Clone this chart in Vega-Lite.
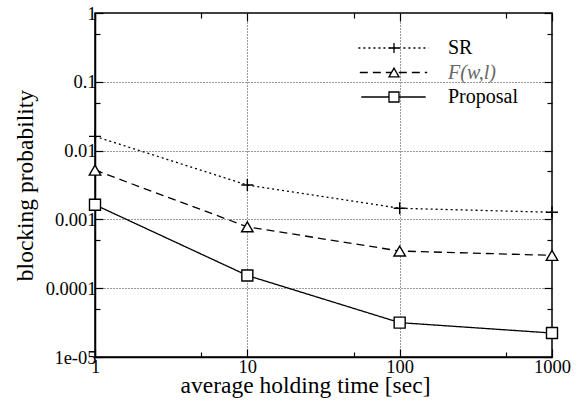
{
  "$schema": "https://vega.github.io/schema/vega-lite/v6.json",
  "width": 457,
  "height": 344,
  "autosize": {"type": "none"},
  "padding": {"left": 95, "top": 13, "right": 26, "bottom": 50},
  "background": "white",
  "config": {"view": {"stroke": "black", "strokeWidth": 1.5}, "font": "Liberation Serif"},
  "data": {"values": [
    {"series": "SR", "time": 1, "p": 0.0161},
    {"series": "SR", "time": 10, "p": 0.00316},
    {"series": "SR", "time": 100, "p": 0.00145},
    {"series": "SR", "time": 1000, "p": 0.00127},
    {"series": "F(w,l)", "time": 1, "p": 0.0052},
    {"series": "F(w,l)", "time": 10, "p": 0.00078},
    {"series": "F(w,l)", "time": 100, "p": 0.000347},
    {"series": "F(w,l)", "time": 1000, "p": 0.0003},
    {"series": "Proposal", "time": 1, "p": 0.00163},
    {"series": "Proposal", "time": 10, "p": 0.000153},
    {"series": "Proposal", "time": 100, "p": 0.0000316},
    {"series": "Proposal", "time": 1000, "p": 0.0000223}
  ]},
  "layer": [
    {
      "mark": {"type": "line", "color": "black", "strokeWidth": 1.3},
      "encoding": {
        "x": {"field": "time", "type": "quantitative",
          "scale": {"type": "log", "domain": [1, 1000], "nice": false},
          "axis": {"orient": "bottom", "values": [1, 5, 10, 50, 100, 500, 1000],
            "labelExpr": "datum.value == 1 ? '1' : datum.value == 10 ? '10' : datum.value == 100 ? '100' : datum.value == 1000 ? '1000' : ''",
            "grid": true, "gridDash": [1, 2], "gridColor": "#333", "gridWidth": 1,
            "gridOpacity": {"condition": {"test": "datum.value == 10 || datum.value == 100", "value": 1}, "value": 0},
            "tickSize": {"condition": {"test": "datum.value == 1 || datum.value == 10 || datum.value == 100 || datum.value == 1000", "value": -8}, "value": -5},
            "tickColor": "black", "tickWidth": 1.2,
            "domainColor": "black", "domainWidth": 1.5,
            "labelFont": "Liberation Serif", "labelFontSize": 18.5, "labelColor": "black",
            "labelPadding": 8, "labelFlush": false, "labelOverlap": false,
            "title": "average holding time [sec]", "titleFont": "Liberation Serif", "titleFontSize": 23.5,
            "titleFontWeight": "normal", "titleColor": "black", "titleX": 210, "titleY": 35, "titleBaseline": "alphabetic"}},
        "y": {"field": "p", "type": "quantitative",
          "scale": {"type": "log", "domain": [0.00001, 1], "nice": false},
          "axis": {"orient": "left", "values": [0.00001, 0.00005, 0.0001, 0.0005, 0.001, 0.005, 0.01, 0.05, 0.1, 0.5, 1],
            "labelExpr": "datum.value == 1 ? '1' : datum.value == 0.1 ? '0.1' : datum.value == 0.01 ? '0.01' : datum.value == 0.001 ? '0.001' : datum.value == 0.0001 ? '0.0001' : datum.value == 0.00001 ? '1e-05' : ''",
            "grid": true, "gridDash": [1, 2], "gridColor": "#333", "gridWidth": 1,
            "gridOpacity": {"condition": {"test": "datum.value == 0.1 || datum.value == 0.01 || datum.value == 0.001 || datum.value == 0.0001", "value": 1}, "value": 0},
            "tickSize": {"condition": {"test": "datum.value == 1 || datum.value == 0.1 || datum.value == 0.01 || datum.value == 0.001 || datum.value == 0.0001 || datum.value == 0.00001", "value": -8}, "value": -5},
            "tickColor": "black", "tickWidth": 1.2,
            "domainColor": "black", "domainWidth": 1.5,
            "labelFont": "Liberation Serif", "labelFontSize": 18.5, "labelColor": "black",
            "labelPadding": 7, "labelFlush": false, "labelOverlap": false,
            "title": "blocking probability", "titleFont": "Liberation Serif", "titleFontSize": 23.5,
            "titleFontWeight": "normal", "titleColor": "black", "titleX": -70, "titleBaseline": "middle"}},
        "strokeDash": {"field": "series", "type": "nominal",
          "scale": {"domain": ["SR", "F(w,l)", "Proposal"], "range": [[2, 3], [8, 5], [1, 0]]},
          "legend": {"orient": "none", "legendX": 288.5, "legendY": 25, "title": null, "padding": 0,
            "symbolType": "M-5.85,0H5.85", "symbolSize": 100, "symbolStrokeColor": "black", "symbolStrokeWidth": 1.3,
            "rowPadding": 4.5, "labelFont": "Liberation Serif", "labelFontSize": 20,
            "labelColor": "black", "labelOffset": 44.5, "labelLimit": 300,
            "encode": {"labels": {"update": {
              "fontStyle": {"signal": "datum.value === 'F(w,l)' ? 'italic' : 'normal'"},
              "fill": {"signal": "datum.value === 'F(w,l)' ? '#666666' : '#000000'"}}}}}}
      }
    },
    {
      "mark": {"type": "point", "filled": false, "fill": "white", "fillOpacity": 1, "strokeWidth": 1.4, "opacity": 1},
      "encoding": {
        "x": {"field": "time", "type": "quantitative",
          "axis": {"orient": "top", "values": [1, 5, 10, 50, 100, 500, 1000], "labels": false, "grid": false,
            "domain": false, "title": null, "tickColor": "black", "tickWidth": 1.2,
            "tickSize": {"condition": {"test": "datum.value == 1 || datum.value == 10 || datum.value == 100 || datum.value == 1000", "value": -8}, "value": -5}}},
        "y": {"field": "p", "type": "quantitative",
          "axis": {"orient": "right", "values": [0.00001, 0.00005, 0.0001, 0.0005, 0.001, 0.005, 0.01, 0.05, 0.1, 0.5, 1], "labels": false, "grid": false,
            "domain": false, "title": null, "tickColor": "black", "tickWidth": 1.2,
            "tickSize": {"condition": {"test": "datum.value == 1 || datum.value == 0.1 || datum.value == 0.01 || datum.value == 0.001 || datum.value == 0.0001 || datum.value == 0.00001", "value": -8}, "value": -5}}},
        "shape": {"field": "series", "type": "nominal",
          "scale": {"domain": ["Proposal", "F(w,l)", "SR"], "range": ["square", "triangle-up", "M-1,0H1M0,-1V1"]},
          "legend": {"orient": "none", "legendX": 289, "legendY": 25, "title": null, "padding": 0,
            "values": ["SR", "F(w,l)", "Proposal"],
            "symbolSize": 100, "symbolFillColor": "white", "symbolStrokeWidth": 1.3,
            "rowPadding": 4.5, "labelFontSize": 20, "labelExpr": "''"}},
        "stroke": {"field": "series", "type": "nominal",
          "scale": {"domain": ["Proposal", "F(w,l)", "SR"], "range": ["black", "black", "black"]},
          "legend": {"orient": "none", "legendX": 289, "legendY": 25, "title": null, "padding": 0,
            "values": ["SR", "F(w,l)", "Proposal"],
            "symbolSize": 100, "symbolFillColor": "white", "symbolStrokeWidth": 1.3,
            "rowPadding": 4.5, "labelFontSize": 20, "labelExpr": "''"}},
        "size": {"field": "series", "type": "ordinal",
          "scale": {"domain": ["SR", "F(w,l)", "Proposal"], "range": [144, 121, 81]}, "legend": null}
      }
    }
  ],
  "resolve": {"axis": {"x": "independent", "y": "independent"}}
}
